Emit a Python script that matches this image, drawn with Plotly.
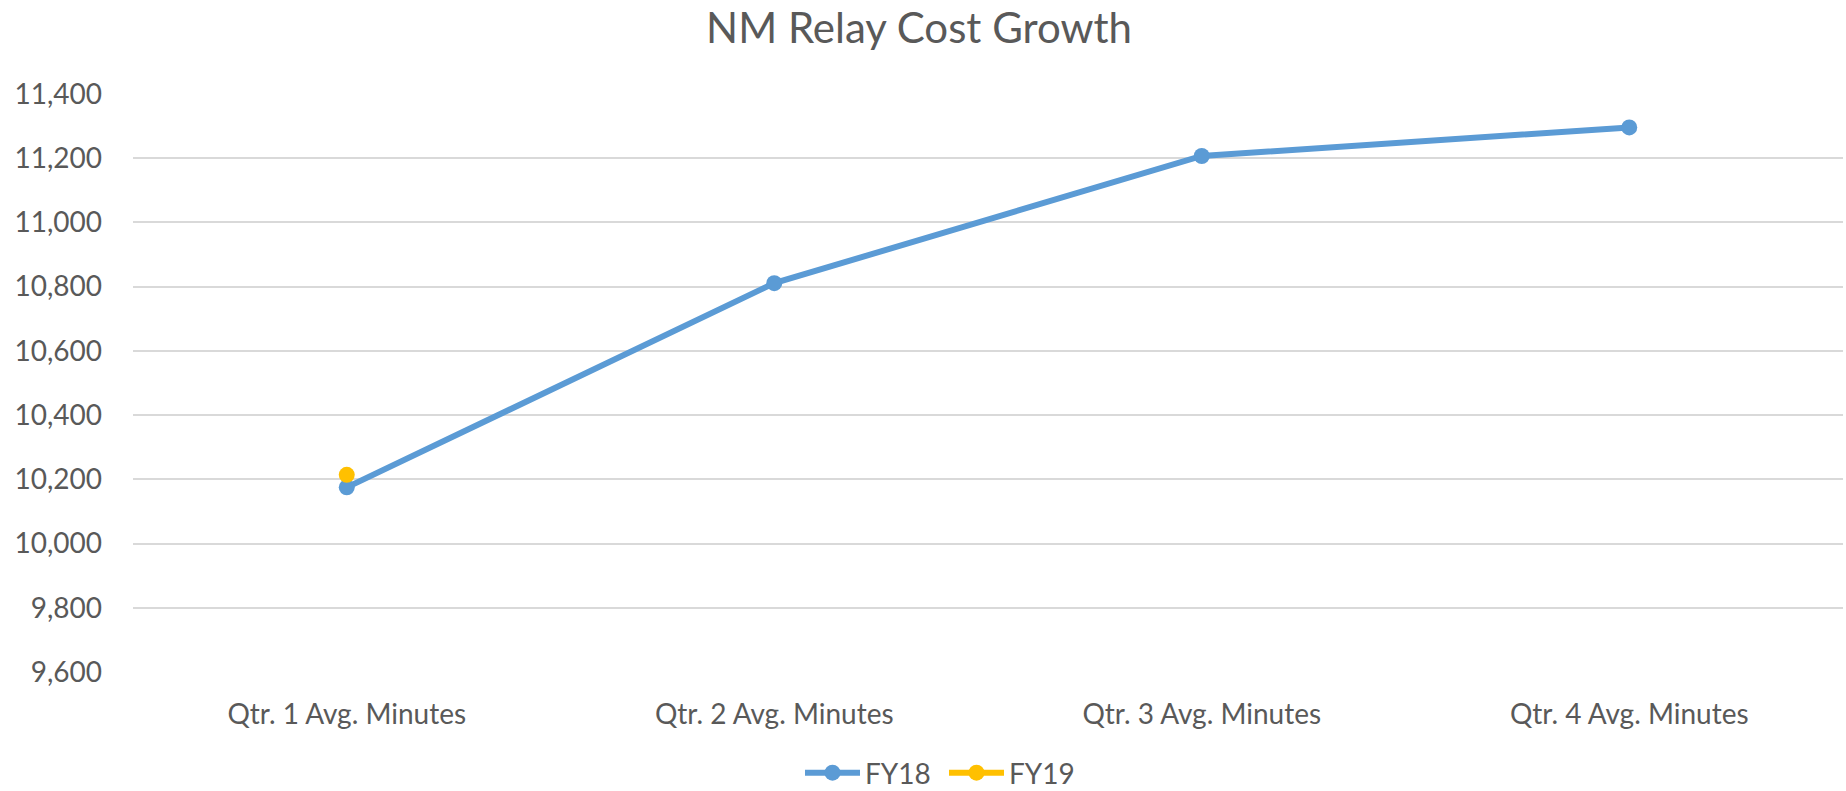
import plotly.graph_objects as go

categories = ["Qtr. 1 Avg. Minutes", "Qtr. 2 Avg. Minutes", "Qtr. 3 Avg. Minutes", "Qtr. 4 Avg. Minutes"]
fy18 = [10175, 10811, 11207, 11296]
fy19 = [10214, None, None, None]
y_ticks = [9600, 9800, 10000, 10200, 10400, 10600, 10800, 11000, 11200, 11400]

FONT = "Lato"
TXT = "#595959"
W, H = 1846, 791

fig = go.Figure()
fig.add_trace(go.Scatter(x=categories, y=fy18, name="FY18", mode="lines+markers",
                         line=dict(color="#5B9BD5", width=6),
                         marker=dict(size=16, color="#5B9BD5")))
fig.add_trace(go.Scatter(x=categories, y=fy19, name="FY19", mode="lines+markers",
                         line=dict(color="#FFC000", width=6),
                         marker=dict(size=16, color="#FFC000")))

fig.update_layout(
    width=W, height=H,
    paper_bgcolor="white", plot_bgcolor="white",
    margin=dict(l=133, r=3, t=94, b=119),
    font=dict(family=FONT, color=TXT, size=28),
    title=dict(text="NM Relay Cost Growth", x=919 / W, xanchor="center",
               y=1 - 28 / H, yanchor="middle", yref="container",
               font=dict(size=42, color=TXT, family=FONT)),
    showlegend=True,
    legend=dict(orientation="h", x=944 / W, xanchor="center", xref="container",
                y=1 - 773 / H, yanchor="middle", yref="container",
                font=dict(size=28, color=TXT), itemwidth=55, entrywidth=74,
                tracegroupgap=0, bgcolor="rgba(0,0,0,0)"),
    xaxis=dict(type="category", range=[-0.5, 3.5], showgrid=False, zeroline=False,
               showline=False, ticks="", tickfont=dict(size=28, color=TXT),
               ticklabelstandoff=23),
    yaxis=dict(range=[9600, 11400], tickvals=y_ticks, tickformat=",d",
               showgrid=True, gridcolor="#D9D9D9", gridwidth=1.5, zeroline=False,
               showline=False, ticks="", tickfont=dict(size=28, color=TXT),
               ticklabelstandoff=30),
)

fig.write_html("out.html", config={"displayModeBar": False},
               post_script="document.body.style.margin='0';")
